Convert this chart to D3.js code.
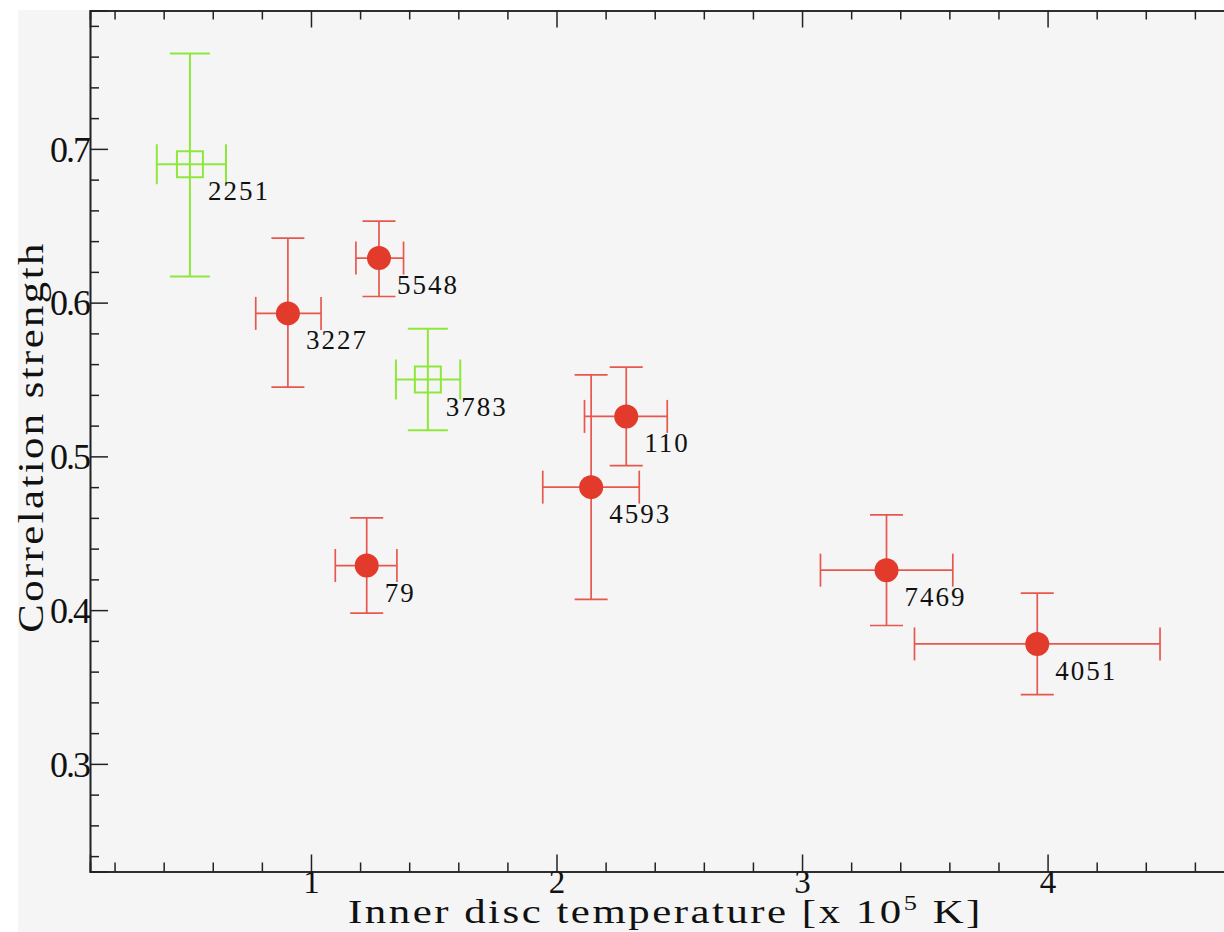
<!DOCTYPE html>
<html>
<head>
<meta charset="utf-8">
<script src="https://cdn.jsdelivr.net/npm/d3@7/dist/d3.min.js"></script>
<style>
  html, body { margin: 0; padding: 0; background: #ffffff; }
  svg { display: block; }
  .serif { font-family: "Liberation Serif", "DejaVu Serif", serif; }
</style>
</head>
<body>
<svg id="chart" width="1224" height="932"></svg>
<script>
// Observation IDs, one per source
const obsIds   = ["2251", "5548", "3227", "3783", "79", "4593", "110", "7469", "4051"];
// Source class: "open" = open square (green), "filled" = filled circle (red)
const kinds    = ["open", "filled", "filled", "open", "filled", "filled", "filled", "filled", "filled"];
// Inner disc temperature (units of 1e5 K) with lower / upper bounds
const temp     = [0.507, 1.277, 0.906, 1.476, 1.227, 2.141, 2.284, 3.344, 3.958];
const tempLo   = [0.372, 1.183, 0.775, 1.346, 1.099, 1.944, 2.114, 3.075, 3.458];
const tempHi   = [0.654, 1.377, 1.041, 1.608, 1.350, 2.337, 2.451, 3.614, 4.458];
// Correlation strength with lower / upper bounds
const corr     = [0.690, 0.629, 0.593, 0.550, 0.429, 0.480, 0.526, 0.426, 0.378];
const corrLo   = [0.617, 0.604, 0.545, 0.517, 0.398, 0.407, 0.494, 0.390, 0.345];
const corrHi   = [0.762, 0.653, 0.642, 0.583, 0.460, 0.553, 0.558, 0.462, 0.411];
// Axis ticks
const xMajorTicks = [1, 2, 3, 4];
const yMajorTicks = [0.3, 0.4, 0.5, 0.6, 0.7];

(function () {
const svg = d3.select("#chart");
const W = 1224, H = 932;

// plot frame
const pLeft = 90, pTop = 10.5, pBottom = 871.5, pRight = 1244;

const x = d3.scaleLinear().domain([0.1, 4.8]).range([pLeft, pRight]);
const y = d3.scaleLinear().domain([0.23, 0.79]).range([pBottom, pTop]);

// page background
svg.append("rect").attr("x", 18).attr("y", 10).attr("width", W - 18).attr("height", H - 10)
  .attr("fill", "#f5f5f5");

const xMinor = d3.range(0.2, 4.8, 0.2).map(v => +v.toFixed(2)).filter(v => Math.abs(v - Math.round(v)) > 1e-6);
const yMinor = d3.range(0.24, 0.79, 0.02).map(v => +v.toFixed(2)).filter(v => Math.abs(v * 10 - Math.round(v * 10)) > 1e-6);

const axisColor = "#222";

function styleAxis(g) {
  g.selectAll(".domain").attr("stroke", axisColor).attr("stroke-width", 1.6);
  g.selectAll(".tick line").attr("stroke", axisColor).attr("stroke-width", 1.5);
  g.selectAll(".tick text").attr("class", "serif").attr("fill", "#111");
}

// bottom axis: major (labelled) and minor ticks pointing inward
const gxb = svg.append("g").attr("transform", `translate(0,${pBottom})`)
  .call(d3.axisBottom(x).tickValues(xMajorTicks).tickSize(-17).tickPadding(0).tickFormat(d3.format("d")));
styleAxis(gxb);
gxb.selectAll(".tick text").attr("font-size", 33).attr("dy", "0.64em");
const gxbm = svg.append("g").attr("transform", `translate(0,${pBottom})`)
  .call(d3.axisBottom(x).tickValues(xMinor).tickSize(-9).tickFormat(""));
styleAxis(gxbm);

// top axis
const gxt = svg.append("g").attr("transform", `translate(0,${pTop})`)
  .call(d3.axisTop(x).tickValues(xMajorTicks).tickSize(-17).tickFormat(""));
styleAxis(gxt);
const gxtm = svg.append("g").attr("transform", `translate(0,${pTop})`)
  .call(d3.axisTop(x).tickValues(xMinor).tickSize(-9).tickFormat(""));
styleAxis(gxtm);

// left axis
const gyl = svg.append("g").attr("transform", `translate(${pLeft},0)`)
  .call(d3.axisLeft(y).tickValues(yMajorTicks).tickSize(-18).tickPadding(1).tickFormat(d3.format(".1f")));
styleAxis(gyl);
gyl.selectAll(".tick text").attr("font-size", 36).attr("letter-spacing", -2).attr("dy", "0.34em");
const gylm = svg.append("g").attr("transform", `translate(${pLeft},0)`)
  .call(d3.axisLeft(y).tickValues(yMinor).tickSize(-9).tickFormat(""));
styleAxis(gylm);

// axis titles (wide serif look via horizontal stretch)
const xt = svg.append("text").attr("class", "serif")
  .attr("transform", "translate(348,923) scale(1.26,1)")
  .attr("font-size", 34).attr("fill", "#111")
  .attr("letter-spacing", 2);
xt.append("tspan").text("Inner disc temperature [x 10");
xt.append("tspan").attr("font-size", 21).attr("dy", -13).text("5");
xt.append("tspan").attr("dy", 13).text(" K]");

svg.append("text").attr("class", "serif")
  .attr("transform", "translate(43,437) rotate(-90) scale(1.22,1)")
  .attr("text-anchor", "middle").attr("font-size", 35).attr("fill", "#111")
  .attr("letter-spacing", 2)
  .text("Correlation strength");

// data points
const colors = { filled: "#e23a2b", open: "#8ee83c" };
const barColors = { filled: "#e8574d", open: "#8ee83c" };
const capHalf = { filled: 16.5, open: 20 };

const pts = obsIds.map((id, i) => ({
  id, kind: kinds[i], t: temp[i], tl: tempLo[i], th: tempHi[i],
  c: corr[i], cl: corrLo[i], ch: corrHi[i]
}));

const g = svg.append("g");
pts.forEach(p => {
  const cx = x(p.t), cy = y(p.c);
  const col = barColors[p.kind], h = capHalf[p.kind];
  const sw = p.kind === "open" ? 2 : 1.7;
  const grp = g.append("g").attr("stroke", col).attr("stroke-width", sw).attr("fill", "none");
  // vertical error bar and caps
  grp.append("line").attr("x1", cx).attr("x2", cx).attr("y1", y(p.cl)).attr("y2", y(p.ch));
  grp.append("line").attr("x1", cx - h).attr("x2", cx + h).attr("y1", y(p.ch)).attr("y2", y(p.ch));
  grp.append("line").attr("x1", cx - h).attr("x2", cx + h).attr("y1", y(p.cl)).attr("y2", y(p.cl));
  // horizontal error bar and caps
  grp.append("line").attr("x1", x(p.tl)).attr("x2", x(p.th)).attr("y1", cy).attr("y2", cy);
  grp.append("line").attr("x1", x(p.tl)).attr("x2", x(p.tl)).attr("y1", cy - h).attr("y2", cy + h);
  grp.append("line").attr("x1", x(p.th)).attr("x2", x(p.th)).attr("y1", cy - h).attr("y2", cy + h);
  // marker
  if (p.kind === "filled") {
    g.append("circle").attr("cx", cx).attr("cy", cy).attr("r", 12).attr("fill", colors.filled);
  } else {
    g.append("rect").attr("x", cx - 13).attr("y", cy - 13).attr("width", 26).attr("height", 26)
      .attr("fill", "none").attr("stroke", colors.open).attr("stroke-width", 2);
  }
  // observation label
  g.append("text").attr("class", "serif")
    .attr("x", cx + 18).attr("y", cy + 36)
    .attr("font-size", 27).attr("letter-spacing", 2).attr("fill", "#111")
    .text(p.id);
});
})();
</script>
</body>
</html>
